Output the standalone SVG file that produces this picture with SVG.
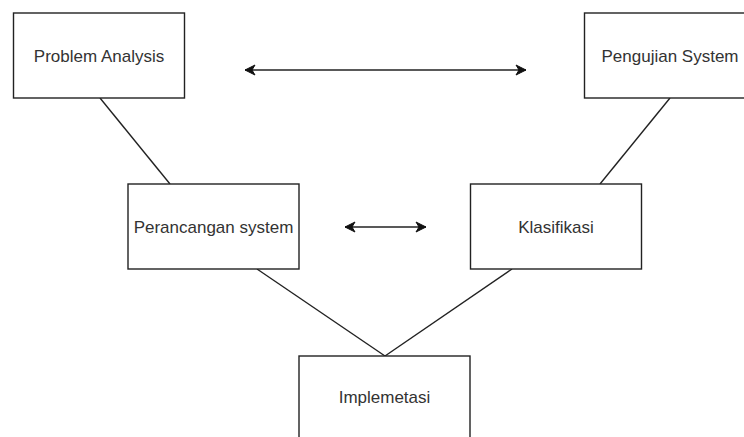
<svg xmlns="http://www.w3.org/2000/svg" width="744" height="437" viewBox="0 0 744 437">
<style>
.box{fill:#fff;stroke:#222;stroke-width:1.4}
.lbl{font-family:"Liberation Sans",Arial,sans-serif;font-size:17px;fill:#333;text-anchor:middle}
.ln{stroke:#222;stroke-width:1.4;fill:none}
</style>
<defs>
<marker id="ah" markerUnits="userSpaceOnUse" markerWidth="14" markerHeight="12" viewBox="-11 -6 12 12" refX="0" refY="0" orient="auto-start-reverse">
<path d="M0,0 L-10,-5 L-7,0 L-10,5 Z" fill="#111" stroke="#111" stroke-width="1"/>
</marker>
</defs>
<rect width="744" height="437" fill="#fff"/>
<g id="connectors">
<line class="ln" x1="100" y1="98" x2="170" y2="184"/>
<line class="ln" x1="670" y1="98" x2="600" y2="184"/>
<line class="ln" x1="257" y1="269" x2="385" y2="356"/>
<line class="ln" x1="512" y1="269" x2="385" y2="356"/>
<line class="ln" x1="245" y1="70" x2="526" y2="70" marker-start="url(#ah)" marker-end="url(#ah)"/>
<line class="ln" x1="345" y1="227" x2="426" y2="227" marker-start="url(#ah)" marker-end="url(#ah)"/>
</g>
<g id="problem-analysis">
<rect class="box" x="13.5" y="13" width="171" height="85"/>
<text class="lbl" x="99" y="61.5">Problem Analysis</text>
</g>
<g id="pengujian-system">
<rect class="box" x="584.5" y="13" width="171" height="85"/>
<text class="lbl" x="670" y="61.5">Pengujian System</text>
</g>
<g id="perancangan-system">
<rect class="box" x="128" y="184" width="171" height="85"/>
<text class="lbl" x="213.5" y="232.5">Perancangan system</text>
</g>
<g id="klasifikasi">
<rect class="box" x="470.5" y="184" width="171" height="85"/>
<text class="lbl" x="556" y="232.5">Klasifikasi</text>
</g>
<g id="implemetasi">
<rect class="box" x="299" y="356" width="171" height="85"/>
<text class="lbl" x="384.5" y="402.5">Implemetasi</text>
</g>
</svg>
